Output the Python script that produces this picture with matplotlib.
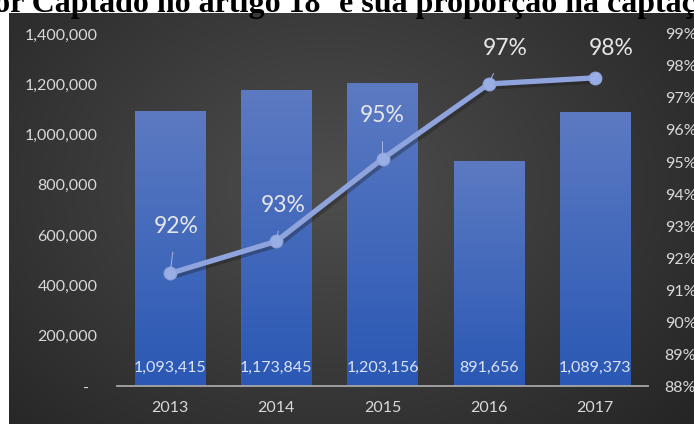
import matplotlib
matplotlib.use("Agg")
import matplotlib.pyplot as plt
import numpy as np
from matplotlib.ticker import FuncFormatter, FixedLocator

years = ["2013", "2014", "2015", "2016", "2017"]
captado = [1093415, 1173845, 1203156, 891656, 1089373]
proporcao = [91.52, 92.52, 95.10, 97.44, 97.63]
left_ticks = [0, 200000, 400000, 600000, 800000, 1000000, 1200000, 1400000]
right_ticks = [88, 89, 90, 91, 92, 93, 94, 95, 96, 97, 98, 99]
title = "Valor Captado no artigo 18º e sua proporção na captação total"

# label offsets (pixels) for percent labels
pct_offsets = [(6, 47), (7, 36), (0, 43), (16, 35), (16, 29)]

W, H = 694, 424
fig = plt.figure(figsize=(W / 100, H / 100), dpi=100)
fig.patch.set_facecolor("white")

# dark radial background panel
bg = fig.add_axes([9 / W, 0, 1 - 9 / W, (H - 13) / H])
yy, xx = np.mgrid[0:1:300j, 0:1:500j]
r = np.sqrt(((xx - 0.47) / 0.78) ** 2 + ((yy - 0.42) / 1.0) ** 2)
r = np.clip(r, 0, 1)
inner = np.array([0x4e, 0x4e, 0x4e]) / 255
outer = np.array([0x20, 0x20, 0x20]) / 255
img = inner[None, None, :] * (1 - r[..., None]) + outer[None, None, :] * r[..., None]
bg.imshow(img, aspect="auto", extent=[0, 1, 0, 1], origin="upper")
bg.set_axis_off()

ax = fig.add_axes([117 / W, (H - 386) / H, 531 / W, 352 / H])
ax.patch.set_alpha(0)
x = np.arange(len(years))
bar_w = 0.66

top_c = np.array([0x5c, 0x7a, 0xc2]) / 255
bot_c = np.array([0x2a, 0x58, 0xb4]) / 255
t = np.linspace(0, 1, 128)[:, None, None]
grad = top_c[None, None, :] * (1 - t) + bot_c[None, None, :] * t
for xi, v in zip(x, captado):
    ax.imshow(grad, aspect="auto", extent=[xi - bar_w / 2, xi + bar_w / 2, 0, v],
              origin="upper", interpolation="bicubic", zorder=2)
    ax.text(xi, 72000, f"{v:,.0f}", ha="center", va="center", color="#dce3f2",
            fontsize=11.5, family="Lato", zorder=3)

ax.set_xlim(-0.5, len(years) - 0.5)
ax.set_ylim(0, 1400000)
ax.set_xticks(x)
ax.set_xticklabels(years)
ax.yaxis.set_major_locator(FixedLocator(left_ticks))
ax.yaxis.set_major_formatter(FuncFormatter(lambda v, p: "-  " if v == 0 else f"{v:,.0f}"))
for s in ["top", "right", "left"]:
    ax.spines[s].set_visible(False)
ax.spines["bottom"].set_color("#a6a6a6")
ax.spines["bottom"].set_linewidth(1.3)
ax.spines["bottom"].set_zorder(4)
ax.tick_params(axis="both", length=0, colors="#d9d9d9", labelsize=11.5)
ax.tick_params(axis="y", pad=14)
ax.tick_params(axis="x", pad=11)
for lb in ax.get_xticklabels() + ax.get_yticklabels():
    lb.set_family("Lato")

ax2 = ax.twinx()
ax2.set_ylim(88, 99)
ax2.yaxis.set_major_locator(FixedLocator(right_ticks))
ax2.yaxis.set_major_formatter(FuncFormatter(lambda v, p: f"{v:.0f}%"))
for s in ax2.spines.values():
    s.set_visible(False)
ax2.tick_params(axis="y", length=0, colors="#d9d9d9", labelsize=11.5, pad=12)
for lb in ax2.get_yticklabels():
    lb.set_family("Lato")

# shadow then line
ax2.plot(x + 0.02, np.array(proporcao) - 0.08, color="#1a1a1a", lw=4.5, alpha=0.35,
         solid_capstyle="round", zorder=4)
ax2.plot(x, proporcao, color="#8fa4dd", lw=3.8, marker="o", markersize=9,
         markerfacecolor="#9aaee6", markeredgecolor="#8fa4dd", zorder=5,
         solid_capstyle="round")

for xi, v, (dx, dy) in zip(x, proporcao, pct_offsets):
    ax2.annotate(f"{v:.0f}%", xy=(xi, v), xytext=(dx * 0.72, dy * 0.72),
                 textcoords="offset points", ha="center", va="center",
                 fontsize=16.5, family="Lato", color="#e6e6e6", zorder=6,
                 arrowprops=dict(arrowstyle="-", color="#a9b6dc", lw=0.7,
                                 shrinkA=9, shrinkB=4))

fig.text(-51 / W, (H - 12) / H, title, ha="left", va="baseline",
         family="Liberation Serif", fontweight="bold", fontsize=23, color="black")

fig.savefig("out.png", dpi=100)
